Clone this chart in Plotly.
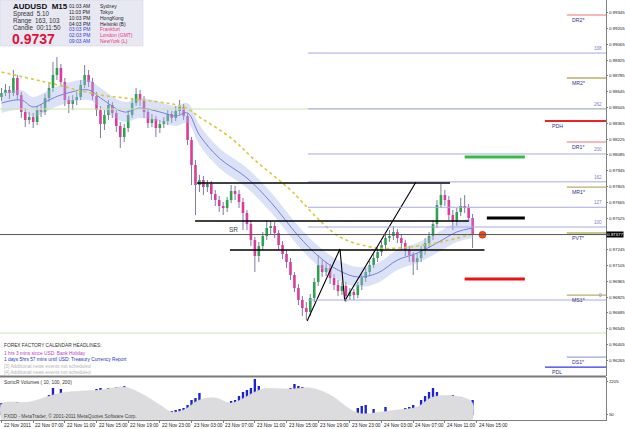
import plotly.graph_objects as go

# ---------------- data ----------------
first_open = 0.98598
closes = [0.98633, 0.98660, 0.98633, 0.98766, 0.98615, 0.98465, 0.98394, 0.98420, 0.98376, 0.98482,
          0.98465, 0.98589, 0.98677, 0.98793, 0.98855, 0.98731, 0.98571, 0.98536, 0.98571, 0.98598,
          0.98704, 0.98793, 0.98731, 0.98606, 0.98482, 0.98358, 0.98438, 0.98527, 0.98456, 0.98341,
          0.98243, 0.98323, 0.98438, 0.98544, 0.98624, 0.98571, 0.98465, 0.98367, 0.98403, 0.98323,
          0.98358, 0.98385, 0.98447, 0.98412, 0.98474, 0.98509, 0.98429, 0.98217, 0.97995, 0.97818,
          0.97862, 0.97800, 0.97827, 0.97738, 0.97685, 0.97632, 0.97614, 0.97685, 0.97765, 0.97738,
          0.97667, 0.97570, 0.97472, 0.97331, 0.97189, 0.97277, 0.97366, 0.97437, 0.97455, 0.97393,
          0.97286, 0.97207, 0.97136, 0.97021, 0.96905, 0.96799, 0.96728, 0.96693, 0.96817, 0.96959,
          0.97109, 0.97047, 0.97083, 0.96994, 0.96932, 0.96879, 0.96923, 0.96834, 0.96870, 0.96843,
          0.96932, 0.96994, 0.97047, 0.97109, 0.97171, 0.97224, 0.97286, 0.97348, 0.97366, 0.97402,
          0.97348, 0.97304, 0.97242, 0.97198, 0.97136, 0.97171, 0.97242, 0.97304, 0.97366, 0.97472,
          0.97641, 0.97729, 0.97685, 0.97552, 0.97490, 0.97579, 0.97632, 0.97614, 0.97526, 0.97377]
highs = [0.98677, 0.98713, 0.98695, 0.98837, 0.98793, 0.98642, 0.98500, 0.98465, 0.98456, 0.98518,
         0.98536, 0.98624, 0.98731, 0.98908, 0.98952, 0.98890, 0.98766, 0.98606, 0.98615, 0.98642,
         0.98748, 0.98881, 0.98837, 0.98766, 0.98642, 0.98518, 0.98482, 0.98571, 0.98553, 0.98482,
         0.98376, 0.98358, 0.98482, 0.98589, 0.98677, 0.98660, 0.98606, 0.98500, 0.98447, 0.98429,
         0.98394, 0.98420, 0.98482, 0.98474, 0.98518, 0.98571, 0.98536, 0.98456, 0.98243, 0.98039,
         0.97907, 0.97898, 0.97862, 0.97853, 0.97774, 0.97720, 0.97667, 0.97712, 0.97818, 0.97809,
         0.97774, 0.97703, 0.97596, 0.97508, 0.97357, 0.97313, 0.97402, 0.97508, 0.97499, 0.97490,
         0.97419, 0.97322, 0.97242, 0.97171, 0.97047, 0.96941, 0.96834, 0.96781, 0.96852, 0.96994,
         0.97198, 0.97153, 0.97136, 0.97118, 0.97029, 0.96976, 0.96959, 0.96959, 0.96905, 0.96897,
         0.96959, 0.97029, 0.97083, 0.97145, 0.97207, 0.97260, 0.97322, 0.97384, 0.97419, 0.97455,
         0.97428, 0.97384, 0.97331, 0.97277, 0.97224, 0.97215, 0.97277, 0.97348, 0.97402, 0.97508,
         0.97685, 0.97827, 0.97774, 0.97720, 0.97596, 0.97614, 0.97703, 0.97729, 0.97650, 0.97561]
lows = [0.98562, 0.98606, 0.98580, 0.98606, 0.98571, 0.98412, 0.98332, 0.98358, 0.98323, 0.98350,
        0.98420, 0.98438, 0.98553, 0.98642, 0.98748, 0.98695, 0.98518, 0.98456, 0.98482, 0.98527,
        0.98571, 0.98677, 0.98686, 0.98571, 0.98429, 0.98234, 0.98305, 0.98394, 0.98412, 0.98288,
        0.98146, 0.98199, 0.98288, 0.98412, 0.98518, 0.98518, 0.98412, 0.98323, 0.98332, 0.98243,
        0.98279, 0.98323, 0.98350, 0.98367, 0.98385, 0.98438, 0.98394, 0.98172, 0.97818, 0.97552,
        0.97756, 0.97729, 0.97756, 0.97685, 0.97632, 0.97579, 0.97552, 0.97579, 0.97658, 0.97685,
        0.97614, 0.97419, 0.97419, 0.97277, 0.97047, 0.97136, 0.97242, 0.97331, 0.97384, 0.97348,
        0.97242, 0.97162, 0.97083, 0.96976, 0.96870, 0.96755, 0.96657, 0.96622, 0.96657, 0.96781,
        0.96923, 0.97003, 0.97012, 0.96941, 0.96888, 0.96834, 0.96843, 0.96781, 0.96799, 0.96799,
        0.96817, 0.96888, 0.96959, 0.97012, 0.97083, 0.97136, 0.97189, 0.97251, 0.97313, 0.97331,
        0.97304, 0.97251, 0.97189, 0.97136, 0.97021, 0.97065, 0.97136, 0.97198, 0.97260, 0.97331,
        0.97437, 0.97614, 0.97632, 0.97508, 0.97419, 0.97455, 0.97543, 0.97570, 0.97490, 0.97260]

band_idx = [0, 5, 8, 12, 15, 22, 25, 31, 35, 40, 44, 47, 50, 55, 62, 68, 75, 80, 85, 90, 95, 100, 105, 110, 115, 119]
band_mid = [0.98544, 0.98571, 0.98509, 0.98571, 0.98615, 0.98660, 0.98589, 0.98465, 0.98500, 0.98465,
            0.98429, 0.98456, 0.98261, 0.98057, 0.97880, 0.97667, 0.97366, 0.97189, 0.97065, 0.97003,
            0.97038, 0.97153, 0.97215, 0.97304, 0.97402, 0.97437]
band_upper = [0.98633, 0.98660, 0.98598, 0.98660, 0.98704, 0.98749, 0.98678, 0.98554, 0.98589, 0.98554,
              0.98518, 0.98545, 0.98350, 0.98146, 0.97969, 0.97756, 0.97455, 0.97278, 0.97154, 0.97092,
              0.97127, 0.97242, 0.97304, 0.97393, 0.97491, 0.97526]
band_lower = [0.98455, 0.98482, 0.98420, 0.98482, 0.98526, 0.98571, 0.98500, 0.98376, 0.98411, 0.98376,
              0.98340, 0.98367, 0.98172, 0.97968, 0.97791, 0.97578, 0.97277, 0.97100, 0.96976, 0.96914,
              0.96949, 0.97064, 0.97126, 0.97215, 0.97313, 0.97348]

ma_idx = [0, 11, 25, 31, 46, 50, 58, 64, 73, 75, 80, 86, 95, 103, 111, 119]
ma_vals = [0.98819, 0.98731, 0.98615, 0.98589, 0.98509, 0.98420, 0.98234, 0.98039, 0.97774, 0.97703,
           0.97517, 0.97348, 0.97260, 0.97269, 0.97313, 0.97384]

vol_avg_idx = [0, 7, 15, 25, 28, 31, 35, 40, 43, 46, 50, 54, 58, 64, 66, 73, 78, 83, 90, 96, 100, 105, 109, 116, 119]
vol_avg = [703, 834, 1421, 1617, 1748, 1813, 1421, 638, 181, 311, 964, 1095, 768, 1487, 1683, 1683,
           1748, 1291, 115, 181, 311, 507, 1160, 1160, 768]
vol_idx = [0, 3, 4, 8, 9, 10, 11, 12, 13, 14, 15, 23, 24, 25, 26, 27, 28, 29, 31, 37, 43, 44, 45, 46, 47,
           48, 49, 50, 57, 58, 59, 60, 61, 62, 63, 64, 65, 72, 73, 74, 75, 76, 83, 84, 90, 91, 92, 94, 97,
           102, 103, 104, 106, 107, 108, 109, 110, 114, 116, 119]
vol_vals = [768, 834, 834, 638, 768, 964, 1095, 1291, 1748, 1160, 1683, 1421, 1683, 1748, 1617, 1748, 1552,
            1813, 1878, 964, 246, 311, 376, 442, 638, 964, 1095, 1421, 703, 899, 964, 1225, 1487, 1617,
            1748, 2336, 1878, 1225, 1748, 2009, 1878, 1813, 964, 899, 442, 572, 638, 376, 507, 442, 507,
            638, 964, 1225, 1487, 1748, 1487, 1291, 1160, 964]

y_ticks = [0.96125, 0.96265, 0.96405, 0.96545, 0.96685, 0.96825, 0.96965, 0.97105, 0.97245,
           0.97525, 0.97665, 0.97805, 0.97945, 0.98085, 0.98225, 0.98365, 0.98505, 0.98645, 0.98785,
           0.98925, 0.99065, 0.99205, 0.99345]
vol_ticks = [50, 2205]
x_tick_bars = [0, 8, 16, 24, 32, 40, 48, 56, 64, 72, 80, 88, 96, 104, 112, 120]
x_tick_text = ["22 Nov 2011", "22 Nov 07:00", "22 Nov 11:00", "22 Nov 15:00", "22 Nov 19:00",
               "22 Nov 23:00", "23 Nov 03:00", "23 Nov 07:00", "23 Nov 11:00", "23 Nov 15:00",
               "23 Nov 19:00", "23 Nov 23:00", "24 Nov 03:00", "24 Nov 07:00", "24 Nov 11:00",
               "24 Nov 15:00"]

pivot_names = ["DR2*", "MR2*", "DR1*", "MR1*", "PVT*", "MS1*", "DS1*"]
pivot_levels = [0.99324, 0.98766, 0.98199, 0.97800, 0.97393, 0.96843, 0.96294]
pivot_colors = ["#F4A0A0", "#B8B060", "#F4A0A0", "#B8B060", "#B8B060", "#B8B060", "#A0A0E8"]
pdh_level = 0.98385
pdl_level = 0.96205
fib_names = ["0", "100", "127", "162", "200", "262", "338"]
fib_levels = [0.96799, 0.97446, 0.97621, 0.97846, 0.98093, 0.98493, 0.98987]
green_line_levels = [0.98491, 0.96507]
black_levels = [0.97836, 0.97499, 0.97242]
black_start = [49.4, 48.9, 57.7]
black_end = [113.3, 118.0, 122.0]
zone_levels = [0.98066, 0.97526, 0.96985]
zone_colors = ["#33BB44", "#000000", "#EE1111"]
zone_start = [117.0, 122.6, 117.0]
sr_level = 0.97379
trend_x = [77.2, 85.5, 86.7, 104.7]
trend_y = [0.96613, 0.97251, 0.96790, 0.97844]

# ---------------- figure ----------------
n = len(closes)
idx = list(range(n))
opens = [first_open] + closes[:-1]
XMIN, XMAX = -0.38, 152.7
YMIN, YMAX = 0.96126, 0.99457
VMIN, VMAX = -342, 2466
W_PLOT, H_PLOT = 606, 420
FONT = "Liberation Sans, Arial, sans-serif"

def px(x):
    return x / W_PLOT

def py(y):
    return 1 - y / H_PLOT

fig = go.Figure()

# wicks
wx, wy = [], []
for i in idx:
    wx += [i, i, None]
    wy += [lows[i], highs[i], None]
fig.add_trace(go.Scatter(x=wx, y=wy, mode="lines", line=dict(color="#7C7C9C", width=1),
                         hoverinfo="skip", xaxis="x", yaxis="y"))
# bodies
for up, col in [(True, "#2FA052"), (False, "#DA3C9E")]:
    bx, by = [], []
    for i in idx:
        if (closes[i] >= opens[i]) == up:
            bx += [i, i, None]
            by += [opens[i], closes[i], None]
    fig.add_trace(go.Scatter(x=bx, y=by, mode="lines", line=dict(color=col, width=2.6),
                             hoverinfo="skip", xaxis="x", yaxis="y"))

# band
fig.add_trace(go.Scatter(x=band_idx, y=band_upper, mode="lines", line=dict(width=0, shape="spline"),
                         hoverinfo="skip", xaxis="x", yaxis="y"))
fig.add_trace(go.Scatter(x=band_idx, y=band_lower, mode="lines", line=dict(width=0, shape="spline"),
                         fill="tonexty", fillcolor="rgba(165,182,235,0.40)", hoverinfo="skip",
                         xaxis="x", yaxis="y"))
fig.add_trace(go.Scatter(x=band_idx, y=band_mid, mode="lines",
                         line=dict(color="#7880D8", width=1, shape="spline"),
                         hoverinfo="skip", xaxis="x", yaxis="y"))
# slow MA
fig.add_trace(go.Scatter(x=ma_idx, y=ma_vals, mode="lines",
                         line=dict(color="#D8C83A", width=1.6, dash="dot", shape="spline"),
                         hoverinfo="skip", xaxis="x", yaxis="y"))
# trend lines
fig.add_trace(go.Scatter(x=trend_x, y=trend_y, mode="lines", line=dict(color="#000000", width=1.1),
                         hoverinfo="skip", xaxis="x", yaxis="y"))
# current price dot
fig.add_trace(go.Scatter(x=[n + 1.5], y=[closes[-1]], mode="markers",
                         marker=dict(color="#F04A1A", size=7, line=dict(color="#C02000", width=0.5)),
                         hoverinfo="skip", xaxis="x", yaxis="y"))

# volume panel
fig.add_trace(go.Bar(x=vol_idx, y=vol_vals, marker=dict(color="#1E22D0", line=dict(width=0)),
                     width=0.6, hoverinfo="skip", xaxis="x2", yaxis="y2"))
gx = [vol_avg_idx[0]] + vol_avg_idx + [vol_avg_idx[-1]]
gy = [VMIN] + vol_avg + [VMIN]
fig.add_trace(go.Scatter(x=gx, y=gy, mode="lines", fill="toself", fillcolor="#DCDCDE",
                         line=dict(color="#D4D4D6", width=0.5, shape="spline"),
                         hoverinfo="skip", xaxis="x2", yaxis="y2"))

shapes = []
def hline(level, x0, x1, color, width, dash="solid", yref="y"):
    shapes.append(dict(type="line", xref="x", yref=yref, x0=x0, x1=x1, y0=level, y1=level,
                       line=dict(color=color, width=width, dash=dash)))

for lv in green_line_levels:
    hline(lv, XMIN, XMAX, "#CDE6A8", 1)
for lv in fib_levels:
    hline(lv, 77.4, XMAX, "#A8A8E6", 1)
hline(sr_level, XMIN, XMAX, "#555555", 1)
for lv, x0, x1 in zip(black_levels, black_start, black_end):
    hline(lv, x0, x1, "#000000", 1.6)
for lv, col, x0 in zip(zone_levels, zone_colors, zone_start):
    hline(lv, x0, 132.2, col, 3)
for lv, col in zip(pivot_levels, pivot_colors):
    hline(lv, 142.8, XMAX, col, 1.3)
hline(pdh_level, 137.3, XMAX, "#EE2222", 2)
hline(pdl_level, 137.3, XMAX, "#3333EE", 1.3)

# info box & separators
shapes.append(dict(type="rect", xref="paper", yref="paper", x0=0, x1=px(143), y0=py(46), y1=1,
                   fillcolor="#E8E8F3", line=dict(color="#D0D0E0", width=0.5), layer="above"))
shapes.append(dict(type="line", xref="paper", yref="paper", x0=0, x1=1, y0=py(376.5), y1=py(376.5),
                   line=dict(color="#7A7A7A", width=2)))

ann = []
def text(x, y, s, size=5.5, color="#333333", xanchor="left", yanchor="middle", bold=False,
         xref="paper", yref="paper", bg=None, family=FONT):
    d = dict(x=x, y=y, xref=xref, yref=yref, text=("<b>%s</b>" % s) if bold else s,
             showarrow=False, xanchor=xanchor, yanchor=yanchor,
             font=dict(size=size, color=color, family=family))
    if bg:
        d["bgcolor"] = bg
        d["borderpad"] = 0
    ann.append(d)

# info panel
text(px(11), py(6.5), "AUDUSD&nbsp;&nbsp;M15", size=8, color="#111111", bold=True)
text(px(11), py(14.0), "Spread&nbsp;&nbsp;5.10", size=6.3)
text(px(11), py(20.8), "Range&nbsp;&nbsp;163, 103", size=6.3)
text(px(11), py(27.6), "Candle&nbsp;&nbsp;00:11:50", size=6.3)
text(px(10), py(38.8), "0.9737", size=14, color="#DD1438", bold=True)
times = ["01:03 AM", "11:03 PM", "10:03 PM", "04:03 PM", "03:03 PM", "02:03 PM", "09:03 AM"]
cities = ["Sydney", "Tokyo", "HongKong", "Helsinki (B)", "Frankfurt", "London (GMT)", "NewYork (L)"]
for k, (t, c) in enumerate(zip(times, cities)):
    yy = py(5.8 + 5.9 * k)
    text(px(92.5), yy, t, size=5, color="#222222" if k < 4 else "#3340E0", xanchor="right")
    text(px(97.5), yy, c, size=5, color="#222222" if k < 4 else "#EE3377")

# news
text(px(2), py(345.5), "FOREX FACTORY CALENDAR HEADLINES:", size=4.8, color="#333333")
text(px(2), py(353.5), "1 hrs 3 mins since USD: Bank Holiday", size=4.8, color="#C040C0")
text(px(2), py(359.5), "1 days 5hrs 57 mins until USD: Treasury Currency Report", size=4.8, color="#2233CC")
text(px(2), py(366), "[3] Additional news events not scheduled", size=4.8, color="#B4B4B4")
text(px(2), py(372), "[4] Additional news events not scheduled", size=4.8, color="#B4B4B4")
text(px(2), py(382), "SonicR Volumes ( 10, 100, 200)", size=4.8, color="#333333")
text(px(2), py(416), "FXDD - MetaTrader, \u00a9 2001-2011 MetaQuotes Software Corp.", size=4.8, color="#444444")

# pivots
for name, lv in zip(pivot_names, pivot_levels):
    text(143.5, lv, name, size=5.2, color="#333388", yanchor="top", xref="x", yref="y")
text(138.5, pdh_level, "PDH", size=5.2, color="#333388", yanchor="top", xref="x", yref="y")
text(138.5, pdl_level, "PDL", size=5.2, color="#333388", yanchor="top", xref="x", yref="y")
for name, lv in zip(fib_names, fib_levels):
    text(152.2, lv, name, size=4.6, color="#7C7CD8", xanchor="right", yanchor="bottom", xref="x", yref="y")
text(57, 0.97428, "SR", size=6.5, color="#444444", xref="x", yref="y")

# current price tag
text(1.0, closes[-1], "%.5f" % closes[-1], size=4.4, color="#FFFFFF", xref="paper", yref="y",
     bg="#000000")

# x labels
for b, t in zip(x_tick_bars, x_tick_text):
    ann.append(dict(x=b, y=0, xref="x2", yref="paper", text=t, showarrow=False, xanchor="left",
                    yanchor="top", yshift=-1,
                    font=dict(size=4.8, color="#222222", family=FONT)))

axis_common = dict(showgrid=False, zeroline=False, automargin=False)
tick_font = dict(size=4.4, color="#222222", family=FONT)
fig.update_layout(
    width=625, height=429, margin=dict(l=0, r=19, t=0, b=9),
    paper_bgcolor="white", plot_bgcolor="white", showlegend=False, barmode="overlay",
    xaxis=dict(range=[XMIN, XMAX], domain=[0, 1], anchor="y", showticklabels=False, **axis_common),
    xaxis2=dict(range=[XMIN, XMAX], domain=[0, 1], anchor="y2", matches="x", tickvals=x_tick_bars,
                ticks="outside", ticklen=2, tickcolor="#808080", showticklabels=False,
                showline=True, linecolor="#808080", linewidth=1, **axis_common),
    yaxis=dict(range=[YMIN, YMAX], domain=[44 / 420, 1], side="right", anchor="x",
               tickvals=y_ticks, tickformat=".5f", ticks="outside", ticklen=1, tickcolor="#808080",
               tickfont=tick_font, showline=True, linecolor="#808080", linewidth=1, **axis_common),
    yaxis2=dict(range=[VMIN, VMAX], domain=[0, 43 / 420], side="right", anchor="x2",
                tickvals=vol_ticks, ticks="outside", ticklen=1, tickcolor="#808080",
                tickfont=tick_font, showline=True, linecolor="#808080", linewidth=1, **axis_common),
    shapes=shapes, annotations=ann,
)

fig.write_html("out.html")
